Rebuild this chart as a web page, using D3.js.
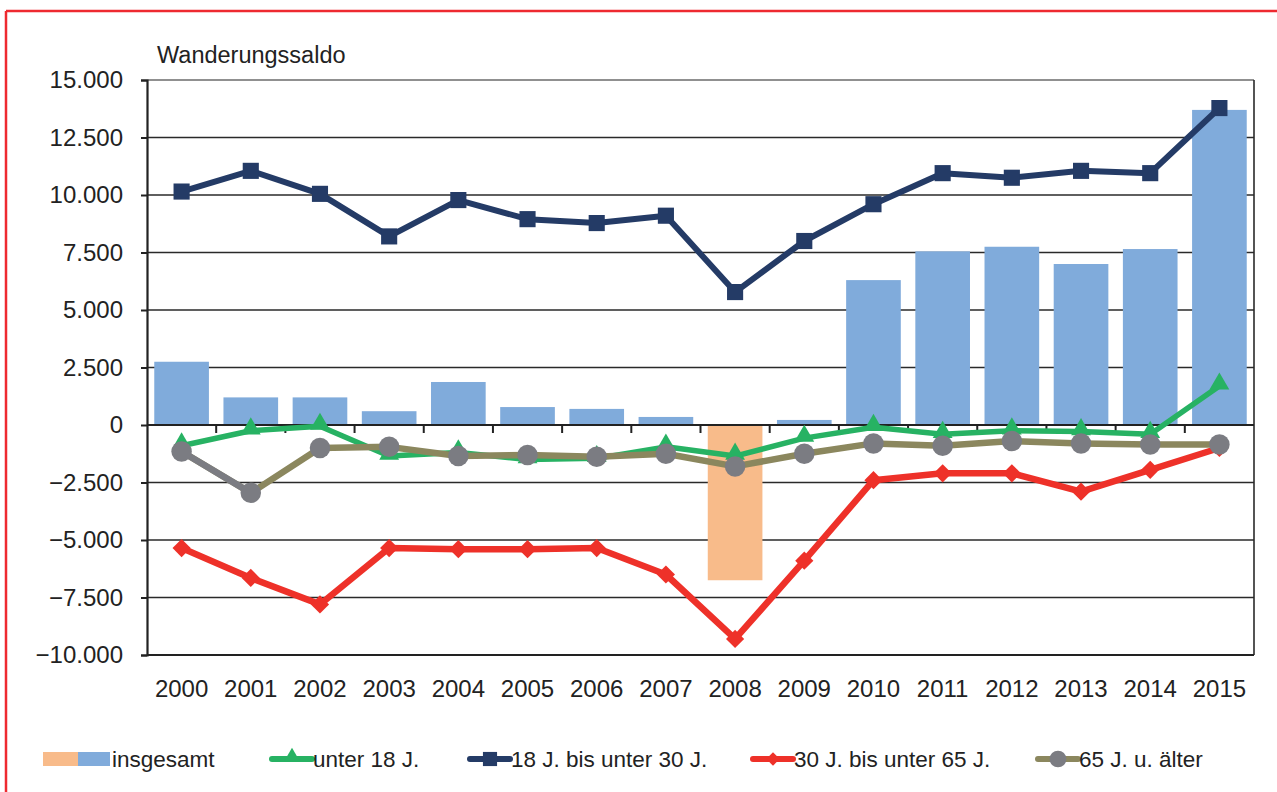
<!DOCTYPE html>
<html><head><meta charset="utf-8">
<script src="https://cdn.jsdelivr.net/npm/d3@7"></script>
<style>
body{margin:0;background:#fff;}
svg{display:block;font-family:"Liberation Sans",Arial,sans-serif;}
</style></head>
<body><svg id="c" width="1277" height="792"></svg>
<script>
const years = ["2000","2001","2002","2003","2004","2005","2006","2007","2008","2009","2010","2011","2012","2013","2014","2015"];
const insgesamt = [2750,1200,1200,600,1870,780,700,350,-6750,220,6300,7550,7750,7000,7650,13700];
const unter18 = [-900,-250,-50,-1350,-1200,-1500,-1450,-950,-1350,-570,-100,-400,-250,-280,-400,1700];
const j18bis30 = [10150,11050,10050,8200,9780,8950,8780,9100,5780,8000,9600,10950,10750,11050,10950,13780];
const j30bis65 = [-5350,-6650,-7800,-5350,-5400,-5400,-5350,-6500,-9300,-5900,-2400,-2100,-2100,-2900,-1950,-1000];
const j65plus = [-1150,-2950,-1000,-950,-1350,-1300,-1380,-1250,-1800,-1250,-800,-900,-700,-800,-850,-850];
const yTicks = [15000,12500,10000,7500,5000,2500,0,-2500,-5000,-7500,-10000];
const yTitle = "Wanderungssaldo";
const seriesNames = ["insgesamt","unter 18 J.","18 J. bis unter 30 J.","30 J. bis unter 65 J.","65 J. u. älter"];

const svg = d3.select("#c");
const L=147,R=1254,T=80,B=655;
const x = d3.scaleBand().domain(years).range([L,R]).paddingInner(0.21).paddingOuter(0.105);
const y = d3.scaleLinear().domain([-10000,15000]).range([B,T]);
const cx = d => x(d)+x.bandwidth()/2;
const fmt = v => d3.format(",")(v).replace(/,/g,".");

// red frame
svg.append("line").attr("x1",6).attr("x2",1277).attr("y1",11).attr("y2",11).attr("stroke","#ee2a30").attr("stroke-width",2.5);
svg.append("line").attr("x1",6).attr("x2",6).attr("y1",11).attr("y2",792).attr("stroke","#ee2a30").attr("stroke-width",2.5);

// gridlines
svg.append("g").selectAll("line").data(yTicks).join("line")
  .attr("x1",L).attr("x2",R).attr("y1",d=>y(d)).attr("y2",d=>y(d))
  .attr("stroke",d=>d===15000?"#6b6b6b":"#2a2a2a").attr("stroke-width",1.6);
svg.append("line").attr("x1",R).attr("x2",R).attr("y1",T).attr("y2",B).attr("stroke","#2a2a2a").attr("stroke-width",1.6);

// y axis
const yAxis = d3.axisLeft(y).tickValues(yTicks).tickFormat(fmt).tickSize(6).tickPadding(18);
const gy = svg.append("g").attr("transform",`translate(${L},0)`).call(yAxis);
gy.select(".domain").attr("stroke","#222").attr("stroke-width",2.2);
gy.selectAll(".tick line").attr("stroke","#222").attr("stroke-width",2);
gy.selectAll("text").attr("font-size",24).attr("fill","#222").attr("font-family","Liberation Sans, Arial, sans-serif");

// bars
svg.append("g").selectAll("rect").data(years).join("rect")
  .attr("x",d=>x(d)).attr("width",x.bandwidth())
  .attr("y",(d,i)=>y(Math.max(0,insgesamt[i])))
  .attr("height",(d,i)=>Math.abs(y(insgesamt[i])-y(0)))
  .attr("fill",(d,i)=>insgesamt[i]<0?"#f8bb8a":"#80abdb");

// x axis at zero
const boundaries = years.slice(1).map(d=>x(d)-x.step()*x.paddingInner()/2);
svg.append("line").attr("x1",L).attr("x2",R).attr("y1",y(0)).attr("y2",y(0)).attr("stroke","#222").attr("stroke-width",2);
svg.append("g").selectAll("line").data(boundaries).join("line")
  .attr("x1",d=>d).attr("x2",d=>d).attr("y1",y(0)).attr("y2",y(0)+8).attr("stroke","#222").attr("stroke-width",2);
svg.append("line").attr("x1",L).attr("x2",R).attr("y1",B).attr("y2",B).attr("stroke","#222").attr("stroke-width",2.2);

// x labels
svg.append("g").selectAll("text").data(years).join("text")
  .attr("x",d=>cx(d)).attr("y",697).attr("text-anchor","middle").attr("font-size",24).attr("fill","#222").text(d=>d);

// title
svg.append("text").attr("x",157).attr("y",63).attr("font-size",23.5).attr("fill","#222").text(yTitle);

// lines
const lineGen = vals => d3.line().x((d,i)=>cx(years[i])).y(d=>y(d))(vals);
const sym = {
  tri: d3.symbol().type(d3.symbolTriangle).size(170),
  sq: d3.symbol().type(d3.symbolSquare).size(260),
  dia: d3.symbol().type(d3.symbolSquare).size(165),
  circ: d3.symbol().type(d3.symbolCircle).size(330)
};
function series(vals, color, width){
  const g = svg.append("g");
  g.append("path").attr("d",lineGen(vals)).attr("fill","none").attr("stroke",color).attr("stroke-width",width).attr("stroke-linejoin","round");
  return g;
}
function markers(g, vals, marker, mcolor, dy){
  g.selectAll("path.m").data(vals).join("path").attr("class","m")
   .attr("transform",(d,i)=>`translate(${cx(years[i])},${y(d)+(dy||0)})` + (marker==="dia"?" rotate(45)":""))
   .attr("d",sym[marker]).attr("fill",mcolor);
}
const gGreen = series(unter18,"#27b263",5.5);
markers(gGreen,unter18,"tri","#27b263",-2);
const gNavy = series(j18bis30,"#243b66",6);
markers(gNavy,j18bis30,"sq","#243b66");
const gRed = series(j30bis65,"#ee3129",6.5);
markers(gRed,j30bis65,"dia","#ee3129");
const gOl = series(j65plus,"#8b875e",6.5);
gOl.append("path").attr("d",lineGen(j65plus.slice(0,2))).attr("fill","none").attr("stroke","#7b7c82").attr("stroke-width",6.5);
markers(gOl,j65plus,"circ","#7b7c82");

// legend
const ly = 759;
const lg = svg.append("g");
lg.append("rect").attr("x",43).attr("y",752).attr("width",35).attr("height",14).attr("fill","#f8bb8a");
lg.append("rect").attr("x",78).attr("y",752).attr("width",32).attr("height",14).attr("fill","#80abdb");
const legItems = [
  {name:seriesNames[1], x:272, c:"#27b263", m:"tri", mc:"#27b263"},
  {name:seriesNames[2], x:470, c:"#243b66", m:"sq", mc:"#243b66"},
  {name:seriesNames[3], x:753, c:"#ee3129", m:"dia", mc:"#ee3129"},
  {name:seriesNames[4], x:1038, c:"#8b875e", m:"circ", mc:"#7b7c82"}
];
const texts = [{name:seriesNames[0], x:112}].concat(legItems.map(d=>({name:d.name,x:d.x+41})));
legItems.forEach(d=>{
  lg.append("line").attr("x1",d.x).attr("x2",d.x+40).attr("y1",ly).attr("y2",ly).attr("stroke",d.c).attr("stroke-width",6).attr("stroke-linecap","round");
  const s = d.m==="circ" ? d3.symbol().type(d3.symbolCircle).size(220) : d.m==="sq" ? d3.symbol().type(d3.symbolSquare).size(200) : d.m==="dia"? d3.symbol().type(d3.symbolSquare).size(90): d3.symbol().type(d3.symbolTriangle).size(110);
  lg.append("path").attr("transform",`translate(${d.x+20},${ly-(d.m==="tri"?2:0)})` + (d.m==="dia"?" rotate(45)":"")).attr("d",s).attr("fill",d.mc);
});
lg.selectAll("text").data(texts).join("text").attr("x",d=>d.x).attr("y",767).attr("font-size",22.5).attr("fill","#222").text(d=>d.name);
</script></body></html>
